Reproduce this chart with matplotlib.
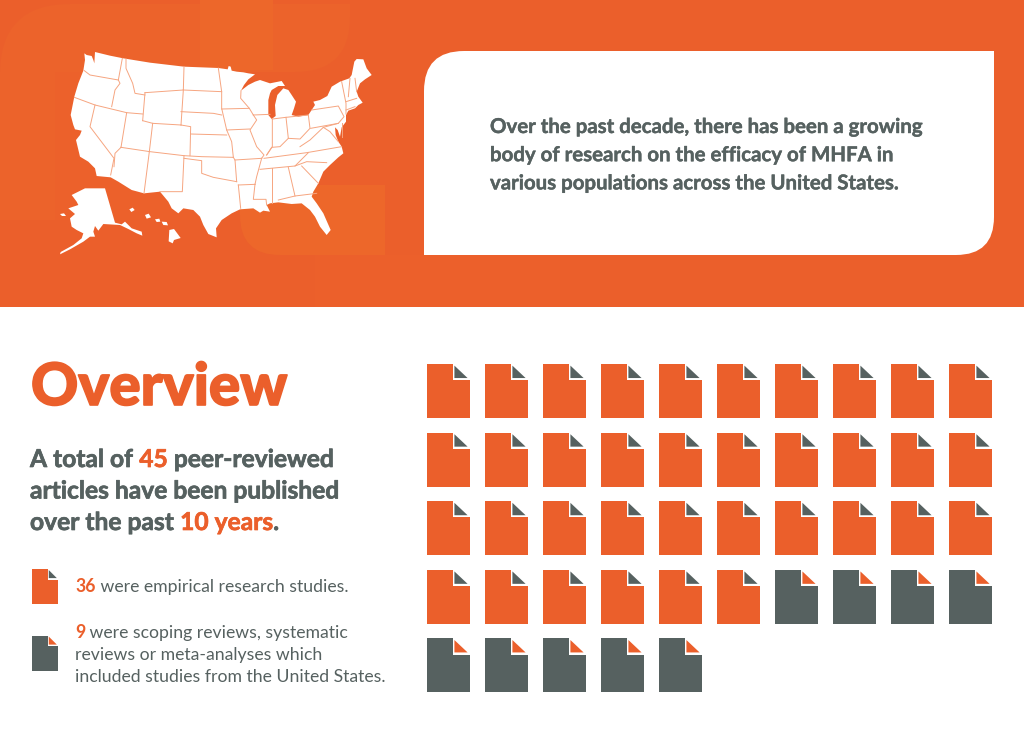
#!/usr/bin/env python
# -*- coding: utf-8 -*-

import matplotlib
matplotlib.use('Agg')
import matplotlib.pyplot as plt
import matplotlib.patheffects as pe
from matplotlib.path import Path
from matplotlib.patches import PathPatch, Polygon, Rectangle

ORANGE = '#eb5f2b'
LIGHT = '#ed672a'
MID = '#ec632b'
GREY = '#566160'
LINE = '#f6a580'

# article counts
empirical = 36
reviews = 9
per_row = 10

title = 'Overview'
intro_lines = ['Over the past decade, there has been a growing',
               'body of research on the efficacy of MHFA in',
               'various populations across the United States.']
head_lines = [[('A total of ', GREY), ('45', ORANGE), (' peer-reviewed', GREY)],
              [('articles have been published', GREY)],
              [('over the past ', GREY), ('10 years', ORANGE), ('.', GREY)]]
note_a = [[('36', ORANGE, 'bold'), (' were empirical research studies.', GREY, 'normal')]]
note_b = [[('9', ORANGE, 'bold'), (' were scoping reviews, systematic', GREY, 'normal')],
          [('reviews or meta-analyses which', GREY, 'normal')],
          [('included studies from the United States.', GREY, 'normal')]]

# map outlines
us = [(133,40),(140,45),(155,48),(160,60),(163,70),(165,36),(210,47),(250,55),(330,68),(432,80),(535,84),
      (563,88),(566,78),(572,80),(575,92),(590,95),(610,97),(625,100),(645,103),(625,118),(612,135),(603,152),
      (625,135),(645,125),(660,120),(690,130),(725,123),(735,138),(715,138),(695,150),(690,160),(685,180),
      (685,225),(695,237),(707,228),(705,195),(712,165),(730,145),(745,150),(755,165),(768,185),(762,205),
      (755,225),(775,230),(805,225),(815,210),(825,195),(820,185),(840,180),(862,168),(875,140),(900,125),
      (928,115),(935,105),(943,65),(950,57),(970,58),(980,85),(995,105),(975,118),(960,130),(950,155),(955,170),
      (968,188),(955,195),(945,205),(925,212),(918,225),(918,245),(905,262),(900,290),(893,270),(885,262),
      (887,285),(895,305),(905,320),(910,340),(895,352),(870,375),(850,395),(835,430),(820,455),(815,470),
      (830,490),(850,520),(872,570),(860,585),(840,560),(825,530),(810,510),(785,490),(755,492),(715,487),
      (690,490),(680,495),(690,515),(670,512),(660,518),(640,505),(600,508),(575,520),(545,540),(528,565),
      (530,592),(505,582),(490,555),(480,530),(460,510),(430,505),(415,520),(395,505),(385,485),(360,455),
      (312,460),(275,450),(235,425),(212,412),(170,408),(165,385),(145,365),(120,350),(108,300),(120,285),
      (125,272),(105,268),(100,255),(92,225),(103,170),(115,130),(130,92),(135,60)]
alaska = [(95,465),(135,445),(195,445),(225,548),(245,553),(255,545),(275,565),(305,575),(307,587),(290,580),
          (265,567),(240,555),(190,552),(175,572),(165,558),(160,575),(165,590),(150,590),(130,605),(90,628),
          (60,643),(62,636),(100,615),(125,595),(130,580),(110,570),(95,560),(90,535),(105,522),(85,505),
          (115,495),(110,485)]
islands = [[(60,522),(72,520),(78,528),(66,528)],
           [(268,508),(278,503),(284,510),(274,516)],
           [(315,525),(326,521),(333,532),(320,536)],
           [(345,538),(358,536),(361,545),(350,546)],
           [(365,545),(380,546),(384,556),(370,555)],
           [(388,570),(402,567),(422,594),(402,600),(398,610),(386,604)]]
borders = [[(133,92),(150,105),(235,120)],
           [(247,55),(235,120),(240,130),(225,150),(215,200)],
           [(258,57),(258,85),(278,130),(285,160),(315,165)],
           [(315,158),(308,242)],
           [(103,172),(165,195),(260,218),(308,222)],
           [(165,195),(150,260),(222,355),(212,405)],
           [(260,218),(243,322)],
           [(243,322),(225,340),(222,380)],
           [(243,322),(330,335),(432,347),(485,350),(580,352)],
           [(432,80),(430,150),(315,158)],
           [(430,150),(545,155)],
           [(430,150),(423,255)],
           [(308,242),(338,250),(423,255)],
           [(338,250),(328,335)],
           [(423,255),(452,260),(450,347)],
           [(423,215),(520,220),(545,225)],
           [(452,282),(560,285)],
           [(328,335),(312,460)],
           [(432,347),(427,455),(360,455)],
           [(432,355),(485,362),(485,400),(520,412),(590,425)],
           [(580,352),(585,360),(590,425)],
           [(535,84),(545,155),(545,205),(560,270),(575,305),(580,352)],
           [(545,207),(628,205)],
           [(603,152),(602,175),(628,205),(640,225)],
           [(560,270),(630,267)],
           [(640,225),(650,240),(630,270),(650,320),(672,345),(665,355)],
           [(585,360),(665,355)],
           [(640,225),(690,223)],
           [(697,237),(697,320),(680,345)],
           [(738,232),(745,295)],
           [(697,237),(738,232),(805,225)],
           [(680,345),(695,322),(720,320),(745,295),(780,297),(810,265),(805,225)],
           [(815,210),(895,198),(912,230),(895,250),(812,265)],
           [(672,355),(800,338),(905,320)],
           [(660,388),(765,378),(805,338)],
           [(780,320),(810,300),(850,262),(870,275),(895,305)],
           [(765,378),(800,365),(860,368)],
           [(785,378),(835,430)],
           [(745,382),(765,468)],
           [(697,385),(697,488)],
           [(665,355),(650,410),(645,433)],
           [(595,435),(645,433)],
           [(595,435),(602,505)],
           [(645,433),(640,478),(678,478),(680,495)],
           [(715,480),(765,468),(830,460)],
           [(905,125),(918,190),(918,222)],
           [(930,115),(925,170)],
           [(945,115),(950,155)],
           [(918,185),(950,175)],
           [(918,210),(945,200)],
           [(850,262),(895,250)],
           [(905,250),(905,290)]]

plt.rcParams['font.family'] = ['Lato', 'DejaVu Sans']

fig = plt.figure(figsize=(10.24, 7.51), dpi=100)
ax = fig.add_axes([0, 0, 1, 1])
ax.set_xlim(0, 1024)
ax.set_ylim(751, 0)
ax.axis('off')


def card(x0, y0, x1, y1, tl=0, tr=0, br=0, bl=0, **kw):
    verts = [(x0 + tl, y0), (x1 - tr, y0), (x1, y0), (x1, y0 + tr), (x1, y1 - br), (x1, y1), (x1 - br, y1),
             (x0 + bl, y1), (x0, y1), (x0, y1 - bl), (x0, y0 + tl), (x0, y0), (x0 + tl, y0)]
    codes = [Path.MOVETO, Path.LINETO, Path.CURVE3, Path.CURVE3, Path.LINETO, Path.CURVE3, Path.CURVE3,
             Path.LINETO, Path.CURVE3, Path.CURVE3, Path.LINETO, Path.CURVE3, Path.CURVE3]
    ax.add_patch(PathPatch(Path(verts, codes), lw=0, **kw))


def doc(x, y, w, h, color, fold):
    nx = x + w * 0.605
    ny = y + h * 0.30
    ax.add_patch(Polygon([(x, y), (nx, y), (nx, ny), (x + w, ny), (x + w, y + h), (x, y + h)],
                         closed=True, fc=color, ec='none'))
    ax.add_patch(Polygon([(x + w * 0.645, y + h * 0.03), (x + w * 0.955, y + h * 0.26), (x + w * 0.645, y + h * 0.26)],
                         closed=True, fc=fold, ec='none'))


def runs(x, y, parts, size, weight='bold', stroke=0):
    renderer = fig.canvas.get_renderer()
    for part in parts:
        s, color = part[0], part[1]
        w = part[2] if len(part) > 2 else weight
        t = ax.text(x, y, s, color=color, fontsize=size, fontweight=w, va='baseline', ha='left')
        # trailing spaces are counted by the layout
        x += t.get_window_extent(renderer).width
        if stroke:
            t.set_path_effects([pe.withStroke(linewidth=stroke, foreground=color)])


# top band
ax.add_patch(Rectangle((0, 0), 1024, 307, fc=ORANGE, ec='none', zorder=0))
card(0, 4, 350, 72, tl=70, br=55, fc=MID, zorder=1)
ax.add_patch(Rectangle((0, 72), 55, 148, fc=MID, ec='none', zorder=1))
ax.add_patch(Rectangle((55, 72), 145, 148, fc='#ec612b', ec='none', zorder=1))
ax.add_patch(Rectangle((200, 0), 73, 70, fc=LIGHT, ec='none', zorder=1))
card(240, 185, 385, 255, bl=40, fc=LIGHT, zorder=1)
ax.add_patch(Rectangle((315, 255), 245, 52, fc='#ec602b', ec='none', zorder=1))

card(424, 51, 994, 255, tl=40, br=38, fc='white', zorder=2)

# map
to_px = lambda pts: [(40 + a / 3, 40 + b / 3) for a, b in pts]
ax.add_patch(Polygon(to_px(us), closed=True, fc='white', ec='none', zorder=3))
ax.add_patch(Polygon(to_px(alaska), closed=True, fc='white', ec='none', zorder=3))
for isl in islands:
    ax.add_patch(Polygon(to_px(isl), closed=True, fc='white', ec='none', zorder=3))
for b in borders:
    xs, ys = zip(*to_px(b))
    ax.plot(xs, ys, color=LINE, lw=0.7, zorder=4)

for i, line in enumerate(intro_lines):
    ax.text(490, 133 + 28.2 * i, line, color=GREY, fontsize=14.7, fontweight='bold', va='baseline', zorder=5,
            path_effects=[pe.withStroke(linewidth=0.3, foreground=GREY)])

# lower left text
ax.text(31, 405, title, color=ORANGE, fontsize=42, fontweight='black', va='baseline',
        path_effects=[pe.withStroke(linewidth=1.2, foreground=ORANGE)])
for i, parts in enumerate(head_lines):
    runs(30, 467 + 31.5 * i, parts, 17.7, stroke=0.5)

doc(32, 569, 26, 35, ORANGE, GREY)
doc(32, 635.5, 26, 35, GREY, ORANGE)
runs(75, 592, note_a[0], 12.7)
for i, parts in enumerate(note_b):
    runs(75, 638 + 22 * i, parts, 12.7)

# one document per article
for n in range(empirical + reviews):
    col = n % per_row
    row = n // per_row
    x = 427 + 58 * col
    y = 364 + 68.6 * row
    if n < empirical:
        doc(x, y, 42.5, 54, ORANGE, GREY)
    else:
        doc(x, y, 42.5, 54, GREY, ORANGE)

fig.savefig('out.png', dpi=100, facecolor='white')
